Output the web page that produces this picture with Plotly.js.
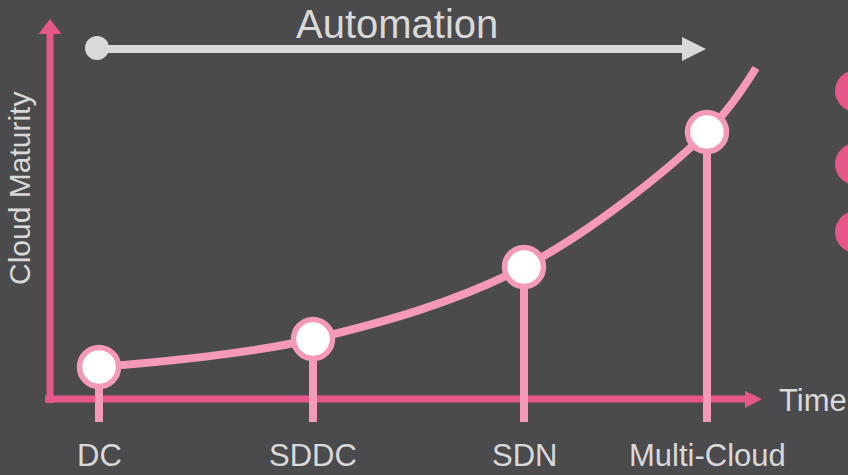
<!DOCTYPE html>
<html>
<head>
<meta charset="utf-8">
<script src="https://cdn.plot.ly/plotly-3.0.1.min.js"></script>
<style>html,body{margin:0;padding:0;background:#4b4b4d;}#chart{width:848px;height:475px;}</style>
</head>
<body>
<div id="chart"></div>
<script>
// Data (time units, maturity units)
const categories = ['DC', 'SDDC', 'SDN', 'Multi-Cloud'];
const stageTime = [0.49, 2.63, 4.74, 6.57];
const stageMaturity = [0.32, 0.60, 1.32, 2.67];
const curveTime = [0.49, 2.63, 4.74, 6.57, 7.06];
const curveMaturity = [0.32, 0.60, 1.32, 2.67, 3.31];
const listNumbers = ['1', '2', '3'];
const listMaturity = [3.08, 2.35, 1.67];

const PINK = '#e5578a';
const LIGHTPINK = '#f59ab6';
const GREY = '#d9d9d9';
const FONT = "'Liberation Sans', Arial, sans-serif";
const dropBottom = -0.23;

// drop lines built from the stage arrays
const dropX = [], dropY = [];
stageTime.forEach((t, i) => { dropX.push(t, t, null); dropY.push(stageMaturity[i], dropBottom, null); });

const traces = [
  { x: curveTime, y: curveMaturity, mode: 'lines', line: { color: LIGHTPINK, width: 8, shape: 'spline', smoothing: 1 }, hoverinfo: 'skip' },
  { x: dropX, y: dropY, mode: 'lines', line: { color: LIGHTPINK, width: 8 }, hoverinfo: 'skip' },
  { x: stageTime, y: stageMaturity, mode: 'markers', marker: { size: 39, color: '#ffffff', line: { color: LIGHTPINK, width: 5.5 } }, hoverinfo: 'skip' }
];

const shapes = [
  // y axis
  { type: 'line', xref: 'x', yref: 'y', x0: 0, x1: 0, y0: -0.04, y1: 3.66, line: { color: PINK, width: 7 }, layer: 'below' },
  { type: 'path', xref: 'x', yref: 'y', path: 'M -0.115 3.65 L 0.115 3.65 L 0 3.80 Z', fillcolor: PINK, line: { width: 0 }, layer: 'below' },
  // x axis
  { type: 'line', xref: 'x', yref: 'y', x0: -0.05, x1: 6.96, y0: 0, y1: 0, line: { color: PINK, width: 7 }, layer: 'below' },
  { type: 'path', xref: 'x', yref: 'y', path: 'M 6.95 0.08 L 6.95 -0.09 L 7.12 0 Z', fillcolor: PINK, line: { width: 0 }, layer: 'below' },
  // automation arrow
  { type: 'circle', xref: 'x', yref: 'y', x0: 0.35, x1: 0.59, y0: 3.39, y1: 3.63, fillcolor: GREY, line: { width: 0 }, layer: 'below' },
  { type: 'line', xref: 'x', yref: 'y', x0: 0.47, x1: 6.34, y0: 3.50, y1: 3.50, line: { color: GREY, width: 8 }, layer: 'below' },
  { type: 'path', xref: 'x', yref: 'y', path: 'M 6.32 3.62 L 6.32 3.38 L 6.56 3.50 Z', fillcolor: GREY, line: { width: 0 }, layer: 'below' }
];
listMaturity.forEach(m => {
  shapes.push({ type: 'circle', xref: 'x', yref: 'y', x0: 7.85, x1: 8.27, y0: m - 0.21, y1: m + 0.21, fillcolor: PINK, line: { width: 0 }, layer: 'below' });
});

const annotations = categories.map((c, i) => ({
  x: stageTime[i], y: -0.56, xref: 'x', yref: 'y', text: c, showarrow: false,
  xanchor: 'center', yanchor: 'middle', font: { family: FONT, size: 31, color: GREY }
}));
annotations.push(
  { x: 3.47, y: 3.75, xref: 'x', yref: 'y', text: 'Automation', showarrow: false, xanchor: 'center', yanchor: 'middle', font: { family: FONT, size: 40, color: GREY } },
  { x: 7.27, y: -0.01, xref: 'x', yref: 'y', text: 'Time', showarrow: false, xanchor: 'left', yanchor: 'middle', font: { family: FONT, size: 31, color: GREY } },
  { x: -0.31, y: 2.10, xref: 'x', yref: 'y', text: 'Cloud Maturity', textangle: -90, showarrow: false, xanchor: 'center', yanchor: 'middle', font: { family: FONT, size: 30, color: GREY } }
);
listNumbers.forEach((n, i) => {
  annotations.push({ x: 8.06, y: listMaturity[i], xref: 'x', yref: 'y', text: n, showarrow: false, xanchor: 'center', yanchor: 'middle', font: { family: FONT, size: 26, color: '#ffffff' } });
});

const layout = {
  width: 848, height: 475,
  margin: { l: 0, r: 0, t: 0, b: 0 },
  paper_bgcolor: '#4b4b4d', plot_bgcolor: '#4b4b4d',
  showlegend: false, hovermode: false,
  xaxis: { range: [-0.5, 7.98], visible: false, fixedrange: true },
  yaxis: { range: [-0.76, 3.99], visible: false, fixedrange: true },
  shapes: shapes, annotations: annotations
};

Plotly.newPlot('chart', traces, layout, { displayModeBar: false, staticPlot: true });
</script>
</body>
</html>
